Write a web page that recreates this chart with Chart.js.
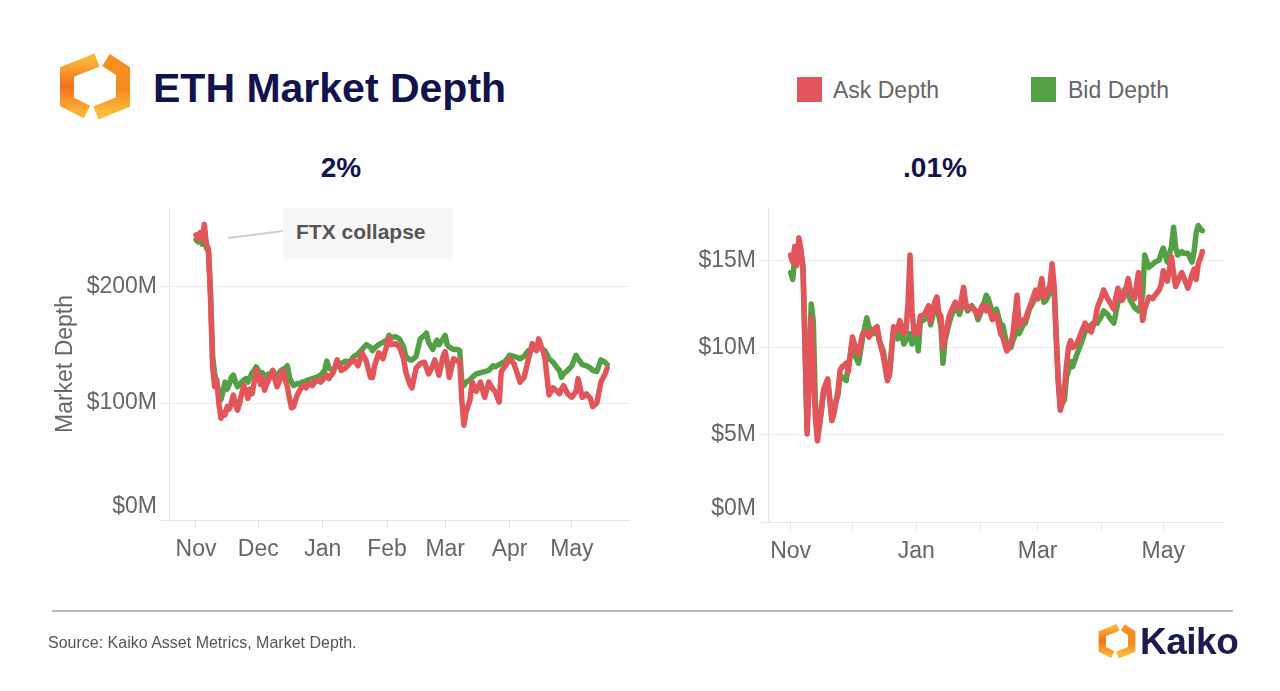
<!DOCTYPE html>
<html><head><meta charset="utf-8">
<script src="https://cdn.jsdelivr.net/npm/chart.js@4.4.0/dist/chart.umd.min.js"></script>
<style>
body{margin:0;width:1280px;height:691px;background:#fff;position:relative;overflow:hidden;font-family:"Liberation Sans",Arial,Helvetica,sans-serif;}
.abs{position:absolute;white-space:nowrap;}
</style></head><body>

<svg class="abs" style="left:50px;top:48px" width="90" height="80" viewBox="50 48 90 80">
  <defs>
    <linearGradient id="gL" x1="0" y1="0" x2="0" y2="1">
      <stop offset="0" stop-color="#fbb536"/><stop offset="0.5" stop-color="#f3701f"/><stop offset="1" stop-color="#fbb234"/>
    </linearGradient>
    <linearGradient id="gR" x1="0" y1="0" x2="0" y2="1">
      <stop offset="0" stop-color="#f7901e"/><stop offset="0.55" stop-color="#f58a21"/><stop offset="1" stop-color="#fcbc3a"/>
    </linearGradient>
  </defs>
  <polyline points="97,60 67,72 67,102 87,112" fill="none" stroke="url(#gL)" stroke-width="14" stroke-linejoin="miter"/>
  <polyline points="106,60 123,71 123,102 96,113" fill="none" stroke="url(#gR)" stroke-width="14" stroke-linejoin="miter"/>
</svg>
<div class="abs" style="left:153px;top:68px;font-size:41px;line-height:41px;font-weight:bold;color:#12134d">ETH Market Depth</div>

<div class="abs" style="left:797px;top:77px;width:25px;height:25px;background:#e2555a"></div>
<div class="abs" style="left:833px;top:79px;font-size:23px;line-height:23px;color:#666">Ask Depth</div>
<div class="abs" style="left:1031px;top:77px;width:25px;height:25px;background:#53a047"></div>
<div class="abs" style="left:1068px;top:79px;font-size:23px;line-height:23px;color:#666">Bid Depth</div>

<div class="abs" style="left:241px;top:154px;width:200px;text-align:center;font-size:28px;line-height:28px;font-weight:bold;color:#12134d">2%</div>
<div class="abs" style="left:835px;top:154px;width:200px;text-align:center;font-size:28px;line-height:28px;font-weight:bold;color:#12134d">.01%</div>

<div class="abs" style="left:48px;top:200px;width:582px;height:370px"><canvas id="c1" width="582" height="370"></canvas></div>
<div class="abs" style="left:660px;top:200px;width:565px;height:372px"><canvas id="c2" width="565" height="372"></canvas></div>

<svg class="abs" style="left:0;top:0" width="1280" height="691"><line x1="228" y1="238" x2="283" y2="231" stroke="#cfcfcf" stroke-width="2"/></svg>
<div class="abs" style="left:283px;top:208px;width:170px;height:51px;background:#f6f6f6"></div>
<div class="abs" style="left:296px;top:221px;font-size:21px;line-height:21px;font-weight:bold;color:#555">FTX collapse</div>

<div class="abs" style="left:52px;top:610px;width:1181px;height:2px;background:#bcbcbc"></div>
<div class="abs" style="left:48px;top:635px;font-size:16px;line-height:16px;color:#555">Source: Kaiko Asset Metrics, Market Depth.</div>
<svg class="abs" style="left:1096px;top:620px" width="42" height="42" viewBox="55 50 80 72">
  <polyline points="97,60 67,72 67,102 87,112" fill="none" stroke="url(#gL)" stroke-width="14" stroke-linejoin="miter"/>
  <polyline points="106,60 123,71 123,102 96,113" fill="none" stroke="url(#gR)" stroke-width="14" stroke-linejoin="miter"/>
</svg>
<div class="abs" style="left:1140px;top:623px;font-size:37px;line-height:37px;font-weight:bold;color:#1b1c4f;letter-spacing:-0.5px">Kaiko</div>

<script>
// x categories: days since 2022-11-01
const baseDate = '2022-11-01';
const monthDays = [0, 30, 61, 92, 120, 151, 181];
const monthNames = ['Nov', 'Dec', 'Jan', 'Feb', 'Mar', 'Apr', 'May'];
const leftTicks = [0, 100, 200];
const rightTicks = [0, 5, 10, 15];

// 2% market depth, $M
const leftDays = [
0,1,2,3,4,5,6,7,8,9,
10,11,12,13,14,15,16,17,18,19,
20,21,22,23,24,25,26,27,28,29,
30,31,32,33,34,35,36,37,38,39,
40,41,42,43,44,45,46,47,48,49,
50,51,52,53,54,56,58,60,62,63,
64,66,68,70,72,74,76,78,80,82,
84,85,86,88,90,92,93,94,96,98,
100,101,103,104,106,108,110,111,112,114,
115,116,117,119,120,121,122,124,126,127,
128,129,130,132,133,135,137,139,141,143,
144,146,147,149,151,153,155,156,158,160,
162,164,165,167,168,170,172,174,175,176,
177,179,181,183,184,186,188,190,191,193,
195,197,198];
const leftAsk = [
244,241,246,240,253,236,232,190,131,114,
120,100,87,92,90,97,95,100,107,99,
94,100,108,115,110,104,112,108,118,128,
124,116,122,111,116,120,124,128,120,114,
118,124,128,120,114,104,96,97,103,108,
111,114,115,113,117,115,120,118,122,124,
121,126,137,128,130,134,137,132,143,136,
122,122,132,143,138,150,156,150,151,148,
138,127,116,113,130,134,135,130,125,132,
137,130,124,140,144,135,122,138,136,137,
103,81,92,103,118,110,118,105,118,112,
110,101,127,132,138,134,124,118,122,137,
151,145,155,145,139,107,113,110,108,112,
115,108,105,110,121,105,108,104,97,100,
118,125,130];
const leftBid = [
240,238,242,236,247,233,230,195,140,125,
118,108,103,110,118,112,116,122,124,118,
114,116,118,120,121,118,122,126,128,131,
128,124,126,120,124,125,124,128,122,124,
126,128,129,130,132,122,118,115,116,117,
116,118,118,119,120,121,122,124,128,136,
130,128,133,134,136,135,140,142,146,150,
148,145,147,150,152,154,158,156,157,155,
148,140,137,137,140,155,158,160,152,146,
150,154,150,155,158,150,148,146,146,145,
118,115,118,120,122,125,126,127,128,132,
131,133,134,136,141,140,139,138,140,145,
146,147,148,146,145,138,135,130,128,122,
125,128,132,141,138,133,132,130,128,127,
137,135,133];

// .01% market depth, $M
const rightDays = [
0,1,2,3,4,5,6,7,8,9,
10,11,12,13,14,15,16,18,20,21,
23,24,25,27,28,30,31,33,35,37,
38,40,42,43,45,47,48,50,52,53,
55,56,57,58,59,60,61,62,63,65,
67,68,70,71,72,73,74,75,77,78,
80,82,84,85,86,88,90,91,93,95,
96,98,100,102,103,105,107,108,110,111,
113,114,116,117,119,120,122,123,124,126,
127,128,129,130,131,132,133,134,135,136,
137,139,141,143,145,146,148,149,151,152,
154,155,157,158,159,161,162,164,165,167,
169,170,171,172,174,176,177,179,180,181,
183,185,186,187,188,190,191,193,195,196,
197,198,199,200];
const rightAsk = [
15.3,14.9,15.8,14.7,16.3,15.6,14.6,10.0,5.05,8.0,
11.7,9.0,6.0,4.65,5.5,6.6,7.6,8.2,5.8,6.2,
7.5,8.7,8.9,9.1,8.6,10.6,10.2,9.6,10.8,10.9,
10.6,11.0,11.2,10.5,9.5,8.1,8.4,11.2,11.0,11.55,
10.8,11.0,12.5,15.3,12.0,10.8,11.2,10.8,11.8,11.9,
12.4,11.5,12.6,12.9,12.0,11.8,10.0,10.6,11.8,12.1,
12.6,12.2,13.45,12.6,12.2,12.3,12.1,11.8,12.4,12.1,
12.4,11.6,11.9,10.8,10.6,9.8,10.2,10.8,13.0,11.2,
11.6,11.6,12.3,12.6,13.3,12.8,13.95,12.9,13.0,13.6,
14.8,13.5,10.5,8.0,6.4,6.9,7.7,9.0,10.0,10.4,
10.0,10.2,10.8,11.4,11.0,10.9,11.6,12.3,12.9,13.3,
12.8,12.6,12.2,12.9,13.4,12.7,12.9,13.95,13.3,12.8,
14.3,13.0,11.55,12.2,12.9,12.8,13.0,13.3,13.6,14.4,
13.8,15.2,14.3,13.5,13.8,14.3,14.0,13.4,14.2,14.5,
13.9,14.8,15.1,15.5];
const rightBid = [
14.3,13.9,15.2,15.0,16.0,15.4,14.6,10.0,5.3,9.0,
12.5,11.5,7.0,5.0,5.6,6.4,7.5,8.1,6.0,6.5,
7.3,8.4,8.3,8.1,8.9,10.3,9.6,9.1,10.6,11.7,
11.2,10.8,11.0,10.4,9.8,8.4,8.6,11.0,10.5,11.2,
10.2,10.4,10.6,10.8,10.2,10.5,11.0,9.8,11.5,11.6,
12.0,11.3,12.3,12.6,11.8,11.2,9.1,10.4,11.4,11.8,
12.4,11.9,12.6,12.4,12.1,12.4,12.0,11.6,12.2,13.0,
12.8,12.0,12.2,11.3,11.3,10.2,10.0,10.4,11.0,10.8,
11.3,11.4,12.2,12.4,12.9,12.8,13.2,12.6,12.7,13.2,
14.2,13.4,10.8,8.2,6.6,6.8,7.0,8.3,8.7,9.2,
8.9,9.6,10.2,10.9,11.2,11.3,11.5,11.4,11.8,12.1,
11.9,11.7,11.4,12.0,12.6,12.8,13.3,13.1,12.7,12.3,
12.1,12.4,13.0,15.3,14.6,14.8,14.9,15.0,15.4,15.7,
14.9,15.8,16.9,15.8,15.3,15.5,15.4,15.4,14.9,15.5,
16.6,17.0,16.8,16.7];

const RED = '#e2555a', GREEN = '#53a047', GRAY = '#666';
const FONT = '"Liberation Sans", Arial, Helvetica, sans-serif';
const xy = (d, v) => d.map((x, i) => ({x, y: v[i]}));
const money = v => '$' + v + 'M';

const zeroLabel = {
  id: 'zeroLabel',
  afterDraw(chart) {
    const y = chart.scales.y, ctx = chart.ctx;
    ctx.save();
    ctx.font = '23px ' + FONT;
    ctx.fillStyle = GRAY;
    ctx.textAlign = 'right';
    ctx.textBaseline = 'middle';
    ctx.fillText(money(0), y.right - 12, y.getPixelForValue(0) - 13);
    ctx.restore();
  }
};

function makeChart(id, days, ask, bid, cfg) {
  return new Chart(document.getElementById(id), {
    type: 'line',
    data: {
      datasets: [
        {label: 'Ask Depth', data: xy(days, ask), borderColor: RED, backgroundColor: RED, borderWidth: 5.5, pointRadius: 0, tension: 0, borderJoinStyle: 'round', borderCapStyle: 'round'},
        {label: 'Bid Depth', data: xy(days, bid), borderColor: GREEN, backgroundColor: GREEN, borderWidth: 5.5, pointRadius: 0, tension: 0, borderJoinStyle: 'round', borderCapStyle: 'round'}
      ]
    },
    options: {
      responsive: false, animation: false, devicePixelRatio: 1,
      layout: {padding: {top: 8, left: 0, right: 0, bottom: 0}},
      plugins: {legend: {display: false}, tooltip: {enabled: false}},
      scales: {
        x: {
          type: 'linear', min: cfg.xmin, max: cfg.xmax,
          afterBuildTicks: s => { s.ticks = monthDays.map(v => ({value: v})); },
          afterFit: s => { s.height = 50; s.paddingLeft = 0; s.paddingRight = 0; },
          ticks: {autoSkip: false, maxRotation: 0, padding: 8, color: GRAY, font: {family: FONT, size: 23},
            callback: (v) => { const i = monthDays.indexOf(v); return (i >= 0 && i % cfg.every === 0) ? monthNames[i] : ''; }},
          grid: {drawOnChartArea: false, drawTicks: true, tickLength: 8, color: '#e4e4e4'},
          border: {display: true, color: '#e6e6e6'}
        },
        y: {
          min: 0, max: cfg.ymax,
          afterBuildTicks: s => { s.ticks = cfg.yticks.map(v => ({value: v})); },
          afterFit: s => { s.width = cfg.ywidth; s.paddingTop = 0; s.paddingBottom = 0; },
          ticks: {padding: 3, color: GRAY, font: {family: FONT, size: 23}, callback: v => v === 0 ? '' : money(v)},
          grid: {color: '#ececec', tickLength: 9},
          border: {display: true, color: '#e6e6e6'},
          title: {display: !!cfg.ytitle, text: cfg.ytitle || '', color: GRAY, font: {family: FONT, size: 23}, padding: {top: 4, bottom: 4}}
        }
      }
    },
    plugins: [zeroLabel]
  });
}

makeChart('c1', leftDays, leftAsk, leftBid, {xmin: -13, xmax: 209, ymax: 267, yticks: leftTicks, ywidth: 121, every: 1, ytitle: 'Market Depth'});
makeChart('c2', rightDays, rightAsk, rightBid, {xmin: -11, xmax: 211, ymax: 18, yticks: rightTicks, ywidth: 108, every: 2});
</script>
</body></html>
